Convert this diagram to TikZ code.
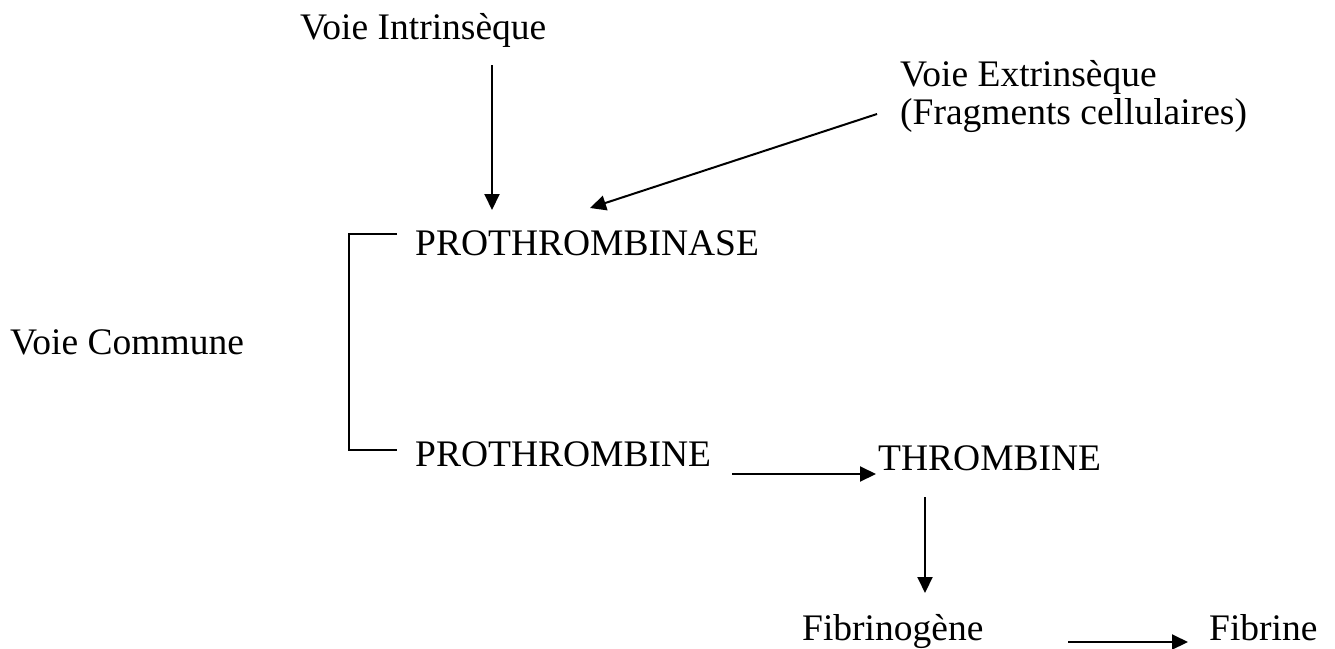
\documentclass[tikz,border=0pt]{standalone}
\usepackage{fontspec}
\setmainfont{Liberation Serif}
\usetikzlibrary{arrows.meta}
\begin{document}
\begin{tikzpicture}[x=1pt,y=-1pt,
  lbl/.style={anchor=base west,inner sep=0pt,font=\fontsize{37.5}{38}\selectfont},
  link/.style={line width=2pt},
  flow/.style={link,-{Triangle[length=16pt,width=15pt]}}]
\useasboundingbox (0,0) rectangle (1335,648);

% labels
\node[lbl] (intr) at (300,39) {Voie Intrinsèque};
\node[lbl,align=left] (extr) at (900,124) {Voie Extrinsèque\\(Fragments cellulaires)};
\node[lbl] (prase) at (415,255) {PROTHROMBINASE};
\node[lbl] (comm) at (10,354) {Voie Commune};
\node[lbl] (proth) at (415,466) {PROTHROMBINE};
\node[lbl] (thr) at (878,470) {THROMBINE};
\node[lbl] (fibg) at (802,640) {Fibrinogène};
\node[lbl] (fib) at (1209,640) {Fibrine};

% connector end points
\coordinate (a1s) at (492,65);  \coordinate (a1e) at (492,210);
\coordinate (a2s) at (877,114); \coordinate (a2e) at (590,208);
\coordinate (a3s) at (732,474); \coordinate (a3e) at (876,474);
\coordinate (a4s) at (925,497); \coordinate (a4e) at (925,593);
\coordinate (a5s) at (1068,642); \coordinate (a5e) at (1188,642);
\coordinate (bt) at (397,234); \coordinate (bb) at (397,450);

% arrows
\draw[flow] (a1s) -- (a1e);
\draw[flow] (a2s) -- (a2e);
\draw[flow] (a3s) -- (a3e);
\draw[flow] (a4s) -- (a4e);
\draw[flow] (a5s) -- (a5e);

% bracket of the common pathway
\draw[link] (bt) -- (349,234) -- (349,450) -- (bb);
\end{tikzpicture}
\end{document}
